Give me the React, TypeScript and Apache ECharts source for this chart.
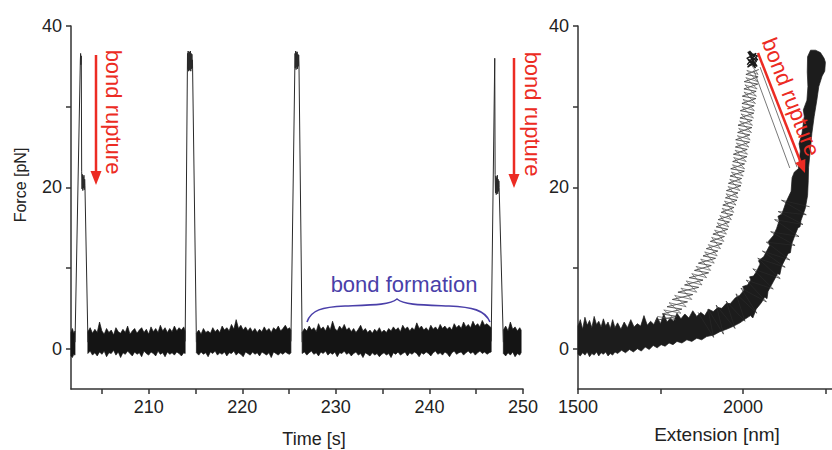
import React, { useEffect, useRef } from "react";
import * as echarts from "echarts";

type P = [number, number];
type B = [number, number, number];

// ---- axis ticks / labels ----
const TIME_LABELS = [210, 220, 230, 240, 250];
const TIME_TICKS = [205, 210, 215, 220, 225, 230, 235, 240, 245, 250];
const FORCE_LABELS = [0, 20, 40];
const FORCE_TICKS = [0, 10, 20, 30, 40];
const EXT_LABELS = [1500, 2000];
const EXT_TICKS = [1500, 1750, 2000, 2250];

// ---- time trace: noisy baseline segments [time s, low pN, high pN] ----
const SEG1: B[] = [[201.70, -0.9, 2.0], [201.85, -1.1, 2.5], [202.00, -0.7, 1.9], [202.13, -0.8, 2.2]];
const SEG2: B[] = [
  [203.50, -0.6, 2.1], [203.75, -0.3, 2.6], [204.00, -0.8, 1.9], [204.25, -0.5, 2.4], [204.50, -0.9, 2.0],
  [204.75, -0.4, 3.3], [205.00, -0.7, 2.2], [205.25, -0.3, 1.8], [205.50, -1.0, 2.5], [205.75, -0.5, 2.0],
  [206.00, -0.6, 2.3], [206.25, -0.2, 1.7], [206.50, -0.8, 2.6], [206.75, -0.4, 2.1], [207.00, -1.1, 1.9],
  [207.25, -0.5, 2.4], [207.50, -0.7, 2.0], [207.75, -0.3, 2.8], [208.00, -0.6, 1.8], [208.25, -0.9, 2.2],
  [208.50, -0.4, 2.5], [208.75, -0.7, 1.9], [209.00, -0.5, 2.3], [209.25, -1.0, 2.6], [209.50, -0.3, 2.0],
  [209.75, -0.6, 2.4], [210.00, -0.8, 1.8], [210.25, -0.4, 2.7], [210.50, -0.6, 2.1], [210.75, -0.9, 2.5],
  [211.00, -0.3, 2.0], [211.25, -0.7, 2.9], [211.50, -0.5, 2.2], [211.75, -1.0, 2.6], [212.00, -0.4, 2.0],
  [212.25, -0.7, 2.5], [212.50, -0.5, 2.1], [212.75, -0.8, 2.8], [213.00, -0.4, 2.2], [213.25, -0.6, 2.6],
  [213.50, -0.9, 2.3], [213.75, -0.5, 2.7], [213.90, -0.6, 2.2],
];
const SEG3: B[] = [
  [215.10, -0.5, 1.9], [215.35, -0.8, 2.3], [215.60, -0.4, 1.8], [215.85, -0.7, 2.5], [216.10, -0.5, 2.0],
  [216.35, -1.0, 2.2], [216.60, -0.4, 1.9], [216.85, -0.6, 2.6], [217.10, -0.3, 2.1], [217.35, -0.8, 2.4],
  [217.60, -0.5, 2.0], [217.85, -0.7, 2.8], [218.10, -0.4, 2.3], [218.35, -0.9, 2.6], [218.60, -0.5, 2.2],
  [218.85, -0.6, 3.0], [219.10, -0.3, 2.4], [219.35, -0.8, 3.6], [219.60, -0.5, 2.5], [219.85, -0.7, 2.9],
  [220.10, -1.0, 2.3], [220.35, -0.4, 2.7], [220.60, -0.6, 2.2], [220.85, -0.8, 2.6], [221.10, -0.4, 2.1],
  [221.35, -0.7, 2.5], [221.60, -0.5, 2.0], [221.85, -0.9, 2.4], [222.10, -0.4, 2.1], [222.35, -0.6, 2.7],
  [222.60, -0.8, 2.2], [222.85, -0.5, 2.5], [223.10, -1.1, 2.0], [223.35, -0.4, 2.6], [223.60, -0.6, 2.3],
  [223.85, -0.8, 2.8], [224.10, -0.5, 2.2], [224.35, -0.7, 2.5], [224.60, -0.4, 2.9], [224.85, -0.6, 2.4],
  [225.05, -0.7, 2.6], [225.20, -0.5, 2.3],
];
const SEG4: B[] = [
  [226.40, -0.6, 2.0], [226.65, -0.4, 2.5], [226.90, -0.8, 2.2], [227.15, -0.5, 2.8], [227.40, -0.3, 2.3],
  [227.65, -0.7, 2.6], [227.90, -0.5, 2.1], [228.15, -0.9, 3.1], [228.40, -0.4, 2.4], [228.65, -0.6, 2.7],
  [228.90, -0.3, 2.2], [229.15, -0.8, 2.9], [229.40, -0.5, 2.3], [229.65, -0.7, 3.4], [229.90, -0.4, 2.5],
  [230.15, -1.0, 2.2], [230.40, -0.5, 2.8], [230.65, -0.6, 2.4], [230.90, -0.3, 3.0], [231.15, -0.7, 2.3],
  [231.40, -0.5, 2.6], [231.65, -0.9, 2.1], [231.90, -0.6, 2.5], [232.15, -0.4, 2.0], [232.40, -0.8, 2.4],
  [232.65, -0.6, 2.9], [232.90, -1.1, 2.2], [233.15, -0.5, 2.5], [233.40, -0.7, 2.0], [233.65, -0.9, 2.3],
  [233.90, -0.5, 1.9], [234.15, -0.8, 2.4], [234.40, -0.6, 2.1], [234.65, -1.0, 2.6], [234.90, -0.7, 2.0],
  [235.15, -0.5, 2.3], [235.40, -0.8, 2.0], [235.65, -0.6, 2.5], [235.90, -1.1, 2.2], [236.15, -0.5, 2.7],
  [236.40, -0.7, 2.3], [236.65, -0.4, 2.6], [236.90, -0.8, 2.1], [237.15, -0.6, 2.9], [237.40, -0.4, 2.4],
  [237.65, -0.9, 2.7], [237.90, -0.5, 2.2], [238.15, -0.7, 2.6], [238.40, -0.4, 2.3], [238.65, -0.6, 3.2],
  [238.90, -1.0, 2.5], [239.15, -0.5, 2.8], [239.40, -0.7, 2.3], [239.65, -0.4, 2.6], [239.90, -0.6, 2.2],
  [240.15, -0.9, 2.9], [240.40, -0.5, 2.4], [240.65, -0.3, 2.7], [240.90, -0.7, 2.3], [241.15, -0.5, 3.0],
  [241.40, -0.8, 2.5], [241.65, -0.4, 2.8], [241.90, -0.6, 2.4], [242.15, -1.0, 2.7], [242.40, -0.5, 2.3],
  [242.65, -0.3, 3.1], [242.90, -0.7, 2.6], [243.15, -0.5, 2.9], [243.40, -0.4, 2.5], [243.65, -0.8, 3.3],
  [243.90, -0.5, 2.7], [244.15, -0.3, 3.0], [244.40, -0.6, 2.6], [244.65, -0.4, 3.4], [244.90, -0.8, 2.8],
  [245.15, -0.5, 3.1], [245.40, -0.3, 2.7], [245.65, -0.6, 3.5], [245.90, -0.4, 2.9], [246.15, -0.7, 3.1],
  [246.40, -0.5, 2.8], [246.60, -0.4, 2.6],
];
const SEG5: B[] = [
  [247.90, -0.6, 2.3], [248.15, -0.9, 2.8], [248.40, -0.5, 2.2], [248.65, -0.8, 3.3], [248.90, -0.4, 2.4],
  [249.15, -1.0, 2.7], [249.40, -0.6, 2.2], [249.65, -0.8, 2.6], [249.80, -0.5, 2.3],
];

// ---- time trace: pulling peaks [time s, force pN] ----
const PEAK1: P[] = [
  [202.13, 0.8], [202.70, 35.8], [202.73, 36.6], [202.76, 35.2], [202.80, 36.3], [202.84, 22.0],
  [202.88, 19.8], [202.92, 21.6], [202.96, 19.6], [203.00, 21.3], [203.04, 19.9], [203.08, 21.5],
  [203.12, 19.7], [203.16, 21.0], [203.19, 20.2], [203.51, 0.8],
];
const PEAK2: P[] = [
  [213.90, 0.9], [214.15, 36.6], [214.18, 34.6], [214.22, 36.9], [214.26, 34.4], [214.30, 36.7],
  [214.34, 34.5], [214.38, 36.8], [214.42, 34.6], [214.46, 36.9], [214.50, 34.4], [214.54, 36.6],
  [214.58, 34.7], [214.62, 36.5], [214.66, 34.8], [214.68, 35.8], [215.10, 0.8],
];
const PEAK3: P[] = [
  [225.20, 0.9], [225.64, 36.6], [225.67, 34.8], [225.71, 36.9], [225.75, 34.6], [225.79, 36.7],
  [225.83, 34.9], [225.87, 36.8], [225.91, 34.7], [225.95, 36.5], [225.99, 35.0], [226.03, 36.4],
  [226.06, 35.4], [226.40, 0.8],
];
const PEAK4: P[] = [
  [246.60, 0.9], [246.98, 36.0], [247.02, 21.6], [247.06, 19.3], [247.10, 21.4], [247.14, 19.1],
  [247.18, 21.2], [247.22, 19.4], [247.26, 21.5], [247.30, 19.2], [247.34, 21.0], [247.38, 19.5],
  [247.42, 20.8], [247.45, 20.0], [247.90, 0.8],
];

// ---- force-extension: stretch curve band edges [extension nm, force pN] ----
const STRETCH_UPPER: P[] = [
  [1500, 2.8], [1507, 3.6], [1514, 2.4], [1521, 3.9], [1528, 2.9], [1535, 3.5], [1542, 2.6], [1549, 4.0],
  [1556, 3.0], [1563, 3.4], [1570, 2.7], [1577, 3.7], [1584, 2.8], [1591, 3.3], [1598, 2.5], [1605, 3.6],
  [1612, 2.6], [1620, 3.2], [1630, 2.4], [1640, 3.3], [1650, 2.6], [1660, 3.6], [1670, 2.7], [1680, 3.1],
  [1690, 2.8], [1700, 4.1], [1710, 2.9], [1720, 3.4], [1730, 3.0], [1740, 3.9], [1750, 3.1], [1760, 4.3],
  [1770, 3.3], [1780, 3.8], [1790, 3.4], [1800, 4.4], [1812, 3.7], [1824, 4.3], [1836, 3.8], [1848, 4.7],
  [1860, 4.0], [1872, 4.5], [1884, 4.1], [1896, 4.9], [1910, 4.6], [1924, 5.1], [1936, 5.0], [1949, 5.6],
  [1962, 5.6], [1977, 6.3], [1990, 6.6], [2004, 7.3], [1999, 7.7], [2014, 7.9], [2024, 8.5], [2020, 8.9],
  [2032, 9.0], [2040, 9.5], [2052, 10.5], [2047, 10.9], [2063, 11.4], [2072, 12.1], [2081, 12.8],
  [2077, 13.3], [2092, 14.0], [2102, 14.9], [2110, 15.9], [2106, 16.4], [2118, 16.7], [2125, 17.5],
  [2131, 18.2], [2146, 19.5], [2149, 21.2], [2156, 21.9], [2168, 22.3], [2174, 24.5], [2170, 25.4],
  [2179, 26.7], [2186, 28.8], [2183, 29.6], [2194, 30.8], [2197, 32.5], [2195, 34.3], [2196, 36.2],
  [2205, 37.0], [2220, 37.0], [2235, 36.7], [2246, 36.0],
];
const STRETCH_LOWER: P[] = [
  [1500, -0.7], [1507, -0.9], [1514, -0.5], [1521, -0.8], [1528, -0.4], [1535, -1.0], [1542, -0.6],
  [1549, -0.8], [1556, -0.4], [1563, -0.9], [1570, -0.5], [1577, -0.7], [1584, -0.4], [1591, -0.9],
  [1598, -0.6], [1605, -0.8], [1612, -0.4], [1620, -0.6], [1632, -0.2], [1644, -0.5], [1656, -0.1],
  [1668, -0.4], [1680, 0.0], [1692, -0.3], [1704, 0.2], [1716, -0.1], [1728, 0.4], [1740, 0.1],
  [1752, 0.5], [1764, 0.3], [1776, 0.7], [1788, 0.5], [1800, 0.9], [1815, 0.7], [1830, 1.1], [1845, 0.9],
  [1860, 1.3], [1875, 1.1], [1890, 1.5], [1912, 1.7], [1930, 2.1], [1956, 2.5], [1972, 2.8], [1991, 3.2],
  [2008, 3.7], [2023, 4.1], [2030, 3.8], [2040, 4.9], [2056, 5.7], [2066, 6.4], [2073, 6.2], [2076, 7.1],
  [2084, 7.7], [2092, 8.3], [2105, 9.3], [2112, 9.2], [2117, 10.2], [2127, 11.0], [2137, 11.8],
  [2144, 11.9], [2148, 13.0], [2158, 14.1], [2167, 15.0], [2173, 15.1], [2176, 15.9], [2183, 16.7],
  [2189, 17.4], [2196, 19.0], [2198, 20.8], [2199, 22.5], [2204, 24.5], [2209, 26.7], [2216, 28.8],
  [2224, 30.8], [2230, 32.5], [2240, 33.8], [2248, 34.4], [2250, 35.5],
];
// fuzzy strokes crossing the stretch band
const STRETCH_SCRIBBLE: P[] = [
  [1864, 4.5], [1911, 1.4], [1894, 4.9], [1941, 1.8], [1919, 5.4], [1976, 2.5], [1949, 5.9], [2006, 3.4],
  [1979, 6.8], [2042, 4.4], [1994, 7.5], [2071, 5.8], [2010, 8.5], [2092, 7.4], [2030, 9.9], [2113, 8.7],
  [2045, 11.2], [2128, 10.1], [2059, 12.1], [2142, 11.0], [2071, 13.2], [2158, 12.8], [2084, 14.5],
  [2170, 13.9], [2096, 16.0], [2182, 15.4], [2107, 17.0], [2192, 16.6], [2117, 18.4], [2202, 17.6],
];

// ---- force-extension: bond-intact curve (grey scribbles) ----
const INTACT: P[] = [
  [1735, 3.5], [1800, 4.0], [1755, 4.3], [1815, 4.9], [1770, 5.2], [1832, 5.8], [1786, 6.1], [1848, 6.7],
  [1803, 7.0], [1866, 7.6], [1823, 7.9], [1879, 8.5], [1837, 8.8], [1896, 9.4], [1853, 9.7], [1904, 10.3],
  [1865, 10.6], [1917, 11.2], [1879, 11.5], [1924, 12.1], [1889, 12.4], [1937, 13.0], [1901, 13.3],
  [1944, 13.9], [1909, 14.2], [1954, 14.8], [1919, 15.1], [1959, 15.7], [1925, 16.0], [1969, 16.6],
  [1934, 16.9], [1973, 17.5], [1939, 17.8], [1982, 18.4], [1947, 18.7], [1985, 19.3], [1950, 19.6],
  [1994, 20.2], [1956, 20.5], [1996, 21.1], [1961, 21.4], [2004, 22.0], [1963, 22.3], [2005, 22.9],
  [1969, 23.2], [2012, 23.8], [1971, 24.1], [2013, 24.7], [1977, 25.0], [2020, 25.6], [1978, 25.9],
  [2021, 26.5], [1984, 26.8], [2027, 27.4], [1985, 27.7], [2028, 28.3], [1991, 28.6], [2033, 29.2],
  [1992, 29.5], [2034, 30.1], [1997, 30.4], [2039, 31.0], [1998, 31.3], [2040, 31.9], [2003, 32.2],
  [2045, 32.8], [2004, 33.1], [2046, 33.7], [2009, 34.0], [2048, 34.6],
];
const INTACT_B: P[] = [
  [1740, 4.0], [1795, 3.6], [1760, 4.8], [1812, 4.4], [1776, 5.7], [1828, 5.2], [1793, 6.6], [1845, 6.1],
  [1812, 7.5], [1860, 7.0], [1828, 8.4], [1876, 7.9], [1845, 9.3], [1890, 8.8], [1858, 10.2], [1902, 9.7],
  [1872, 11.1], [1913, 10.6], [1884, 12.0], [1922, 11.5], [1895, 12.9], [1932, 12.4], [1905, 13.8],
  [1942, 13.3], [1914, 14.7], [1950, 14.2], [1922, 15.6], [1957, 15.1], [1930, 16.5], [1965, 16.0],
  [1937, 17.4], [1972, 16.9], [1944, 18.3], [1979, 17.8], [1949, 19.2], [1985, 18.7], [1955, 20.1],
  [1991, 19.6], [1960, 21.0], [1996, 20.5], [1965, 21.9], [2001, 21.4], [1968, 22.8], [2005, 22.3],
  [1972, 23.7], [2010, 23.2], [1976, 24.6], [2014, 24.1], [1980, 25.5], [2018, 25.0], [1983, 26.4],
  [2022, 25.9], [1987, 27.3], [2026, 26.8], [1990, 28.2], [2029, 27.7], [1994, 29.1], [2032, 28.6],
  [1997, 30.0], [2035, 29.5], [2000, 30.9], [2038, 30.4], [2003, 31.8], [2041, 31.3], [2006, 32.7],
  [2043, 32.2], [2009, 33.6], [2045, 33.1], [2012, 34.5], [2046, 34.0], [2020, 35.5],
];
const INTACT_TOP: P[] = [
  [2013, 35.2], [2040, 36.6], [2012, 36.0], [2043, 35.0], [2015, 36.8], [2041, 35.6], [2014, 34.9],
  [2044, 36.3], [2018, 36.7], [2038, 34.8], [2016, 35.8], [2045, 35.8], [2020, 36.9], [2036, 35.2],
];
const RUPTURE_A: P[] = [[2033, 34.5], [2142, 22.4]];
const RUPTURE_B: P[] = [[2052, 34.9], [2164, 22.5]];

const FONT = "'Liberation Sans', Arial, Helvetica, sans-serif";
const RED = "#ec2b23";
const BLUE = "#4a3fa9";
const INK = "#222";

const BRACE_D =
  "M307,322 C311,310 322,307 345,306 C372,305 390,305 397,299 C404,305 422,305 449,306 C472,307 485,310 490,322";

function polygonSeries(name: string, data: number[][], poly: P[], xi: number, yi: number, color: string) {
  return {
    type: "custom",
    name,
    xAxisIndex: xi,
    yAxisIndex: yi,
    data,
    encode: { x: 0, y: 1 },
    silent: true,
    z: 2,
    renderItem: (params: any, api: any) => {
      if (params.dataIndex !== 0) return null;
      return {
        type: "polygon",
        shape: { points: poly.map((p) => api.coord(p)) },
        style: { fill: color, stroke: color, lineWidth: 0.7 },
      };
    },
  };
}

function bandSeries(name: string, rows: B[]) {
  const poly: P[] = [
    ...rows.map((r) => [r[0], r[2]] as P),
    ...rows.slice().reverse().map((r) => [r[0], r[1]] as P),
  ];
  return polygonSeries(name, rows.map((r) => [r[0], r[1], r[2]]), poly, 0, 0, "#141414");
}

function lineSeries(name: string, data: P[], xi: number, yi: number, color: string, width: number) {
  return {
    type: "line",
    name,
    xAxisIndex: xi,
    yAxisIndex: yi,
    data,
    symbol: "none",
    showSymbol: false,
    silent: true,
    z: 3,
    lineStyle: { color, width },
  };
}

function valueAxis(gridIndex: number, min: number, max: number, labels: number[], ticks: number[]) {
  return {
    type: "value",
    gridIndex,
    min,
    max,
    splitLine: { show: false },
    axisLine: { show: true, onZero: false, lineStyle: { color: "#333", width: 1.5 } },
    axisTick: { show: true, length: 5, customValues: ticks, lineStyle: { color: "#333", width: 1.5 } },
    axisLabel: {
      show: true,
      customValues: labels,
      formatter: (v: number) => String(v),
      color: INK,
      fontSize: 18,
      fontFamily: FONT,
      margin: 9,
    },
  };
}

let braceRegistered = false;

export default function App() {
  const ref = useRef<HTMLDivElement>(null);

  useEffect(() => {
    if (!ref.current) return;
    if (!braceRegistered) {
      echarts.graphic.registerShape("brace", echarts.graphic.extendPath(BRACE_D, {}) as any);
      braceRegistered = true;
    }
    const chart = echarts.init(ref.current, null, { renderer: "svg" });

    const stretchPoly: P[] = [...STRETCH_UPPER, ...STRETCH_LOWER.slice().reverse()];
    const txt = (text: string, x: number, y: number, size: number, fill: string, rotation = 0) => ({
      type: "text",
      x,
      y,
      rotation,
      z: 50,
      style: { text, fontSize: size, fontFamily: FONT, fill, align: "center", verticalAlign: "middle" },
    });

    const option: any = {
      animation: false,
      backgroundColor: "#fff",
      textStyle: { fontFamily: FONT },
      grid: [
        { left: 71, top: 26, width: 452, height: 363, outerBoundsMode: "none", containLabel: false },
        { left: 578, top: 26, width: 254, height: 363, outerBoundsMode: "none", containLabel: false },
      ],
      xAxis: [
        valueAxis(0, 201.7, 250, TIME_LABELS, TIME_TICKS),
        valueAxis(1, 1500, 2270, EXT_LABELS, EXT_TICKS),
      ],
      yAxis: [
        valueAxis(0, -5, 40, FORCE_LABELS, FORCE_TICKS),
        valueAxis(1, -5, 40, FORCE_LABELS, FORCE_TICKS),
      ],
      series: [
        bandSeries("seg1", SEG1),
        bandSeries("seg2", SEG2),
        bandSeries("seg3", SEG3),
        bandSeries("seg4", SEG4),
        bandSeries("seg5", SEG5),
        lineSeries("peak1", PEAK1, 0, 0, "#2a2a2a", 1),
        lineSeries("peak2", PEAK2, 0, 0, "#2a2a2a", 1),
        lineSeries("peak3", PEAK3, 0, 0, "#2a2a2a", 1),
        lineSeries("peak4", PEAK4, 0, 0, "#2a2a2a", 1),
        polygonSeries("stretch", STRETCH_UPPER.map((p) => [p[0], p[1]]), stretchPoly, 1, 1, "#1c1c1c"),
        lineSeries("stretchScribble", STRETCH_SCRIBBLE, 1, 1, "#2a2a2a", 0.7),
        lineSeries("intact", INTACT, 1, 1, "#333", 0.8),
        lineSeries("intactB", INTACT_B, 1, 1, "#555", 0.7),
        lineSeries("intactTop", INTACT_TOP, 1, 1, "#1a1a1a", 1.4),
        lineSeries("ruptureA", RUPTURE_A, 1, 1, "#555", 0.8),
        lineSeries("ruptureB", RUPTURE_B, 1, 1, "#555", 0.8),
      ],
      graphic: [
        txt("Force [pN]", 20, 185, 16, INK, Math.PI / 2),
        txt("Time [s]", 314, 439, 18, INK),
        txt("Extension [nm]", 717, 434, 19, INK),
        // left rupture arrow 1
        { type: "line", z: 50, shape: { x1: 96, y1: 55, x2: 96, y2: 175 }, style: { stroke: RED, lineWidth: 2.5 } },
        { type: "polygon", z: 50, shape: { points: [[90.5, 171], [101.5, 171], [96, 185]] }, style: { fill: RED } },
        txt("bond rupture", 113, 112, 22, RED, -Math.PI / 2),
        // left rupture arrow 2
        { type: "line", z: 50, shape: { x1: 514, y1: 58, x2: 514, y2: 178 }, style: { stroke: RED, lineWidth: 2.5 } },
        { type: "polygon", z: 50, shape: { points: [[508.5, 174], [519.5, 174], [514, 188]] }, style: { fill: RED } },
        txt("bond rupture", 532, 114, 22, RED, -Math.PI / 2),
        // right diagonal rupture arrow
        { type: "line", z: 50, shape: { x1: 758, y1: 53, x2: 801, y2: 163 }, style: { stroke: RED, lineWidth: 2.5 } },
        { type: "polygon", z: 50, shape: { points: [[805.4, 159.0], [795.1, 162.9], [805, 173]] }, style: { fill: RED } },
        txt("bond rupture", 791, 97, 22, RED, -1.2),
        // bond formation
        { type: "brace", z: 50, x: 0, y: 0, shape: {}, style: { stroke: BLUE, fill: "none", lineWidth: 1.6 } },
        txt("bond formation", 404, 284, 22, BLUE),
      ],
    };

    chart.setOption(option);
    return () => chart.dispose();
  }, []);

  return (
    <div
      ref={ref}
      style={{ position: "fixed", left: 0, top: 0, width: 832, height: 450, background: "#fff" }}
    />
  );
}
